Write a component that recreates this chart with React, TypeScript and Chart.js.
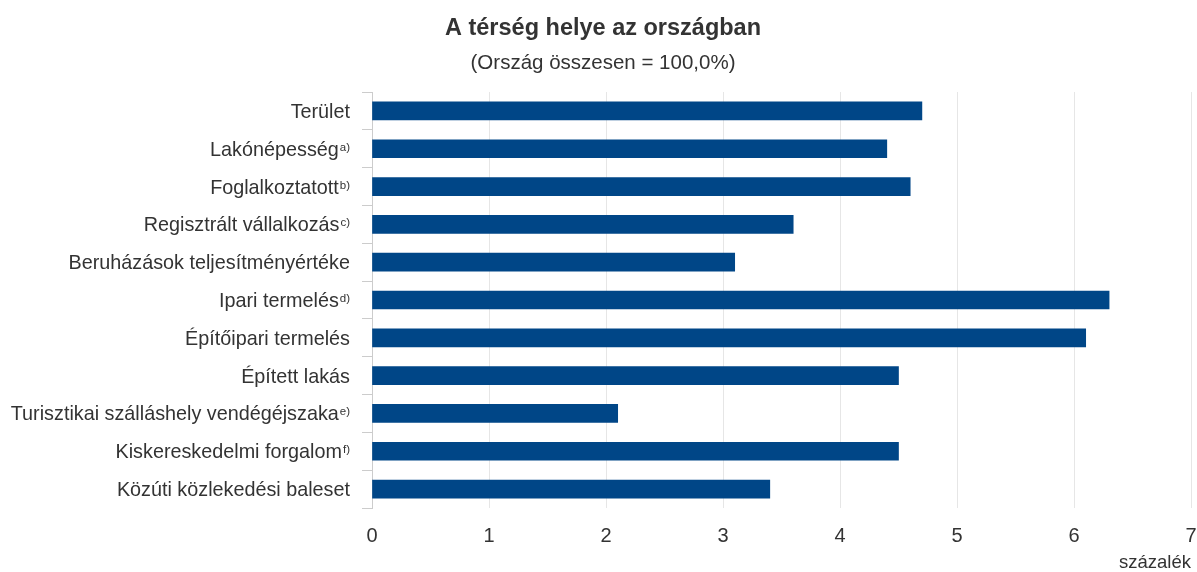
import React, { useEffect, useRef } from "react";
import { Chart, registerables } from "chart.js";

Chart.register(...registerables);

const categories = [
  "Terület",
  "Lakónépesség",
  "Foglalkoztatott",
  "Regisztrált vállalkozás",
  "Beruházások teljesítményértéke",
  "Ipari termelés",
  "Építőipari termelés",
  "Épített lakás",
  "Turisztikai szálláshely vendégéjszaka",
  "Kiskereskedelmi forgalom",
  "Közúti közlekedési baleset",
];
const footnotes = ["", "a)", "b)", "c)", "", "d)", "", "", "e)", "f)", ""];
const values = [4.7, 4.4, 4.6, 3.6, 3.1, 6.3, 6.1, 4.5, 2.1, 4.5, 3.4];
const xTicks = [0, 1, 2, 3, 4, 5, 6, 7];

const titleText = "A térség helye az országban";
const subtitleText = "(Ország összesen = 100,0%)";
const unitText = "százalék";

const FONT = "'Liberation Sans', Arial, sans-serif";
const TEXT = "#333333";
const PAD_LEFT = 9;

const labelPlugin = {
  id: "supLabels",
  afterDraw(chart: any) {
    const ctx = chart.ctx;
    const yScale = chart.scales.y;
    const right = yScale.right - 10 - 12;
    ctx.save();
    ctx.fillStyle = TEXT;
    ctx.textBaseline = "alphabetic";
    categories.forEach((cat, i) => {
      const y = yScale.getPixelForTick(i);
      const base = y + 7;
      const sup = footnotes[i];
      let x = right;
      if (sup) {
        ctx.font = `11.5px ${FONT}`;
        ctx.textAlign = "right";
        ctx.fillText(sup, x, base - 5);
        x -= ctx.measureText(sup).width + 1;
      }
      ctx.font = `19.8px ${FONT}`;
      ctx.textAlign = "right";
      ctx.fillText(cat, x, base);
    });
    ctx.restore();
  },
};

export default function App() {
  const ref = useRef<HTMLCanvasElement>(null);
  useEffect(() => {
    document.body.style.margin = "0";
    const chart = new Chart(ref.current!, {
      type: "bar",
      data: {
        labels: categories.map((c, i) => c + footnotes[i]),
        datasets: [
          {
            data: values,
            backgroundColor: "#004687",
            borderWidth: 0,
            barThickness: 18,
          },
        ],
      },
      options: {
        indexAxis: "y",
        animation: false,
        responsive: false,
        layout: { padding: { left: PAD_LEFT, right: 0, top: 0, bottom: 0 } },
        plugins: {
          legend: { display: false },
          tooltip: { enabled: false },
          title: {
            display: true,
            text: titleText,
            color: TEXT,
            font: { family: FONT, size: 23.5, weight: "bold", lineHeight: 1.2 },
            padding: { top: 14, bottom: 4 },
          },
          subtitle: {
            display: true,
            text: subtitleText,
            color: TEXT,
            font: { family: FONT, size: 20.5, lineHeight: 1.2 },
            padding: { top: 5, bottom: 16.2 },
          },
        },
        scales: {
          x: {
            min: 0,
            max: 7,
            afterBuildTicks: (scale: any) => {
              scale.ticks = xTicks.map((v) => ({ value: v }));
            },
            grid: { color: "#e6e6e6", drawTicks: false, lineWidth: 1 },
            border: { display: false },
            ticks: {
              color: TEXT,
              font: { family: FONT, size: 20 },
              padding: 16,
            },
            title: {
              display: true,
              text: unitText,
              align: "end",
              color: TEXT,
              font: { family: FONT, size: 18.5, lineHeight: 1 },
              padding: { top: 7, bottom: 0 },
            },
            afterFit: (scale: any) => {
              scale.height = 64;
              scale.paddingLeft = 0;
              scale.paddingRight = 6;
            },
          },
          y: {
            grid: {
              drawOnChartArea: false,
              drawTicks: true,
              tickLength: 10,
              color: "#cccccc",
              offset: true,
            },
            border: { display: true, color: "#cccccc" },
            ticks: { display: false },
            afterFit: (scale: any) => {
              scale.width = 372 - PAD_LEFT;
            },
          },
        },
      },
      plugins: [labelPlugin],
    });
    return () => chart.destroy();
  }, []);
  return (
    <div style={{ width: 1197, height: 572 }}>
      <canvas ref={ref} width={1197} height={572} />
    </div>
  );
}
